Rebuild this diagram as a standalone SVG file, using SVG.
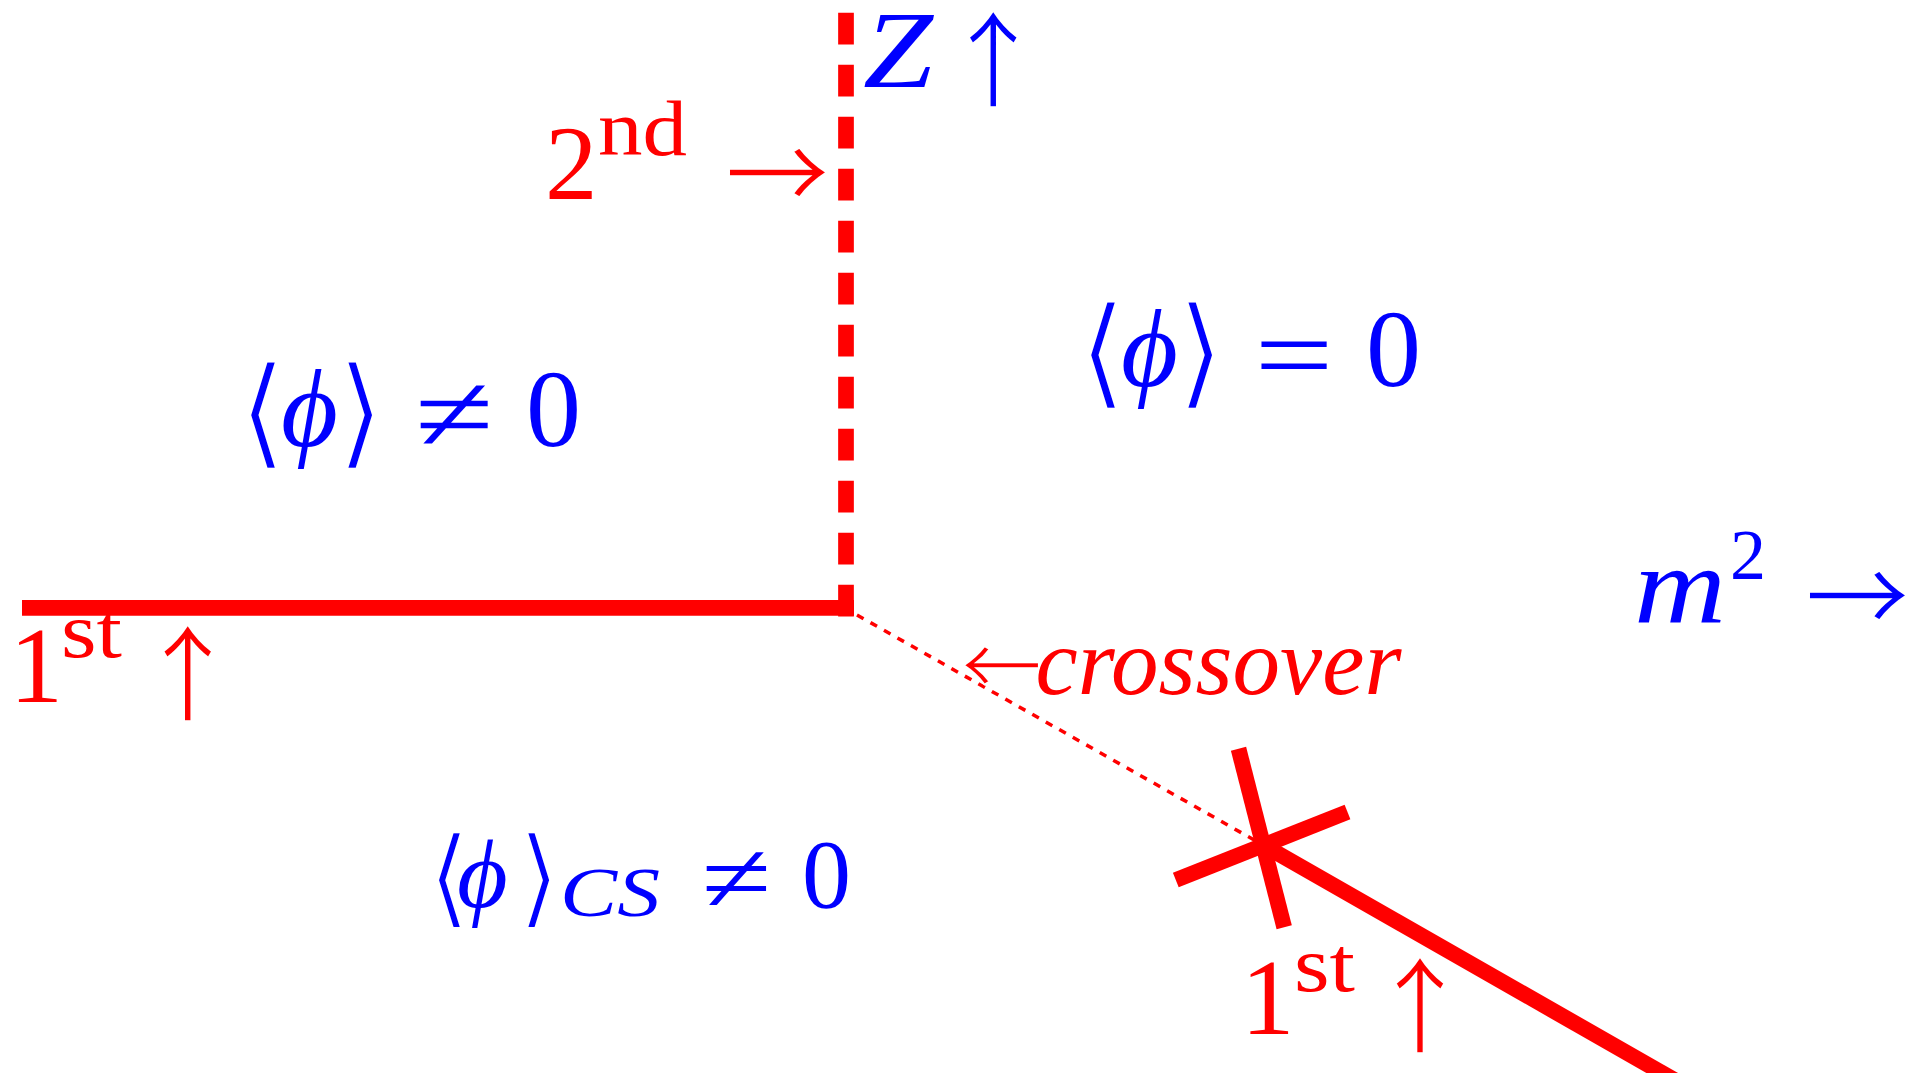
<svg xmlns="http://www.w3.org/2000/svg" width="1923" height="1073" viewBox="0 0 1923 1073">
<style>
.r{fill:#ff0000}
.b{fill:#0000ff}
.rm{font-family:"Liberation Serif","DejaVu Serif",serif;font-style:normal}
.it{font-family:"Liberation Serif","DejaVu Serif",serif;font-style:italic}
.ar{font-family:"Noto Sans CJK JP","DejaVu Sans",sans-serif;font-style:normal;stroke:#ffffff;stroke-width:1.6}
.br{font-family:"DejaVu Sans",sans-serif;font-style:normal;stroke:#ffffff;stroke-width:2.6}
.thick{stroke:#ff0000;stroke-width:15.7;fill:none;stroke-linecap:butt}
</style>
<rect width="1923" height="1073" fill="#ffffff"/>
<g id="connectors">
<line class="thick" x1="22" y1="607.8" x2="854" y2="607.8"/>
<line class="thick" x1="846" y1="12.7" x2="846" y2="616.4" stroke-width="16" stroke-dasharray="31.7 20.3"/>
<line x1="857" y1="615" x2="1263" y2="845" stroke="#ff0000" stroke-width="3.5" stroke-dasharray="7.5 8"/>
<line class="thick" x1="1263" y1="845" x2="1720" y2="1106"/>
<line class="thick" x1="1238.5" y1="748.8" x2="1284.2" y2="927.2"/>
<line class="thick" x1="1175.8" y1="880" x2="1347.5" y2="812"/>
</g>
<g id="label-2nd">
<text class="r rm" font-size="105"><tspan x="545" y="199.3">2</tspan><tspan font-size="78" x="598" y="155" textLength="89" lengthAdjust="spacingAndGlyphs">nd</tspan><tspan> </tspan><tspan class="ar" font-size="105" x="725" y="212">→</tspan></text>
</g>
<g id="label-Z">
<text class="b it" font-size="110"><tspan x="863" y="87" textLength="70" lengthAdjust="spacingAndGlyphs">Z</tspan><tspan> </tspan><tspan class="ar" font-size="104" x="941.3" y="99.2">↑</tspan></text>
</g>
<g id="label-1st-left">
<text class="r rm" font-size="107"><tspan x="9.5" y="701.7">1</tspan><tspan font-size="78" x="61" y="657" textLength="61" lengthAdjust="spacingAndGlyphs">st</tspan><tspan> </tspan><tspan class="ar" font-size="104" x="135.7" y="713">↑</tspan></text>
</g>
<g id="label-1st-right">
<text class="r rm" font-size="107"><tspan x="1241" y="1034">1</tspan><tspan font-size="78" x="1294" y="990.7" textLength="61" lengthAdjust="spacingAndGlyphs">st</tspan><tspan> </tspan><tspan class="ar" font-size="104" x="1368" y="1045.4">↑</tspan></text>
</g>
<g id="label-m2">
<text class="b it" font-size="110"><tspan x="1634" y="623" textLength="92" lengthAdjust="spacingAndGlyphs">m</tspan><tspan class="rm" font-size="72" x="1730" y="579">2</tspan><tspan> </tspan><tspan class="ar" font-size="105" x="1805" y="635">→</tspan></text>
</g>
<g id="label-crossover">
<text class="r it" font-size="95"><tspan class="ar" font-size="81" x="961" y="696">←</tspan><tspan x="1035.5" y="694.3">crossover</tspan></text>
</g>
<g id="region-broken">
<text class="b rm" font-size="110"><tspan class="br" font-size="121" x="239" y="453">⟨</tspan><tspan class="it" x="281" y="446">ϕ</tspan><tspan class="br" font-size="121" x="337" y="453">⟩</tspan><tspan> </tspan><tspan x="414.5" y="451" textLength="79" lengthAdjust="spacingAndGlyphs">≠</tspan><tspan> </tspan><tspan x="526" y="446">0</tspan></text>
</g>
<g id="region-symmetric">
<text class="b rm" font-size="110"><tspan class="br" font-size="121" x="1079" y="393">⟨</tspan><tspan class="it" x="1121" y="386">ϕ</tspan><tspan class="br" font-size="121" x="1177" y="393">⟩</tspan><tspan> </tspan><tspan x="1254.5" y="391.5" textLength="79" lengthAdjust="spacingAndGlyphs">=</tspan><tspan> </tspan><tspan x="1366" y="386">0</tspan></text>
</g>
<g id="region-cs">
<text class="b rm" font-size="98"><tspan class="br" font-size="108" x="428" y="914">⟨</tspan><tspan class="it" x="457" y="907">ϕ</tspan><tspan class="br" font-size="108" x="518" y="914">⟩</tspan><tspan class="it" font-size="70" x="560" y="916" textLength="100" lengthAdjust="spacingAndGlyphs">CS</tspan><tspan> </tspan><tspan font-size="100" x="701.5" y="912" textLength="70" lengthAdjust="spacingAndGlyphs">≠</tspan><tspan> </tspan><tspan x="802" y="907">0</tspan></text>
</g>
</svg>
